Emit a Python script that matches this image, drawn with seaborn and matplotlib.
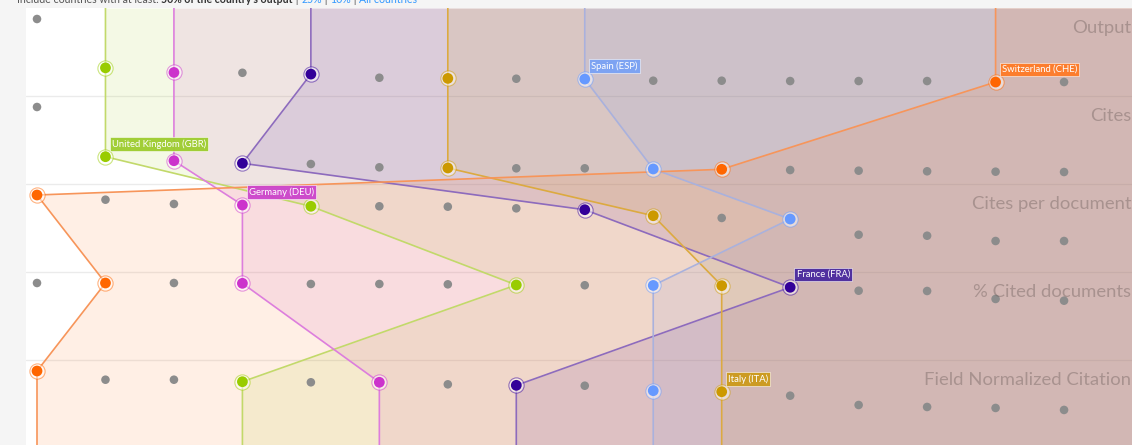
import matplotlib
matplotlib.use("Agg")
import matplotlib.pyplot as plt
import matplotlib.transforms as mtransforms
import seaborn as sns
import pandas as pd

# metrics (rows) and ranks (columns)
metrics = ["Output", "Cites", "Cites per document", "% Cited documents", "Field Normalized Citation"]
ranks = list(range(1, 17))

# relative score of the country at each rank (100 = best)
output_scores = [100, 26, 19, 18.5, 16.5, 11, 10, 9.5, 9, 6.5, 6.5, 6, 6, 6, 4.5, 4.5]
cites_scores = [100, 24.7, 18.6, 14.7, 13.6, 8.6, 7.6, 7.1, 7.1, 6.1, 5.6, 4.5, 3.5, 2.6, 2.0, 1.5]
cpd_scores = [100, 92.9, 86.4, 84.8, 82.9, 82.9, 82.3, 79.8, 77.7, 68.6, 65.2, 63.6, 39.8, 38.3, 30.3, 30.3]
cited_pct_scores = [100, 100, 100, 99.5, 98.5, 98.5, 98, 97, 96.6, 96.3, 96, 93.5, 88.3, 87.9, 75.8, 73.2]
fnc_scores = [100, 86.8, 86.8, 83.8, 82.9, 82.9, 79.8, 78.3, 77.7, 70.2, 68.6, 62.6, 48.5, 45.5, 44, 41]
all_scores = [output_scores, cites_scores, cpd_scores, cited_pct_scores, fnc_scores]

# highlighted countries: rank in each metric
countries = ["United Kingdom (GBR)", "Germany (DEU)", "France (FRA)", "Italy (ITA)",
             "Spain (ESP)", "Switzerland (CHE)"]
country_ranks = [
    [2, 2, 5, 8, 4],
    [3, 3, 4, 4, 6],
    [5, 4, 9, 12, 8],
    [7, 7, 10, 11, 11],
    [9, 10, 12, 10, 10],
    [15, 11, 1, 2, 1],
]
label_row = [1, 2, 3, 4, 0, 0]
colors = ["#99cc00", "#cc33cc", "#330099", "#cc9900", "#6699ff", "#ff6600"]
label_colors = ["#9dcc2e", "#cc44cc", "#4a2a9e", "#cc9a1a", "#79a2f5", "#ff7a26"]
line_colors = ["#c2d96a", "#dd7edd", "#8d6bbd", "#dcaa40", "#a9b1dd", "#f7955a"]


def band_y(row, score):
    return row + 0.125 + (1 - score / 100.0) * 0.75


sns.set_theme(style="white")
plt.rcParams["font.family"] = ["Lato", "DejaVu Sans"]

W, H = 1132, 445
fig = plt.figure(figsize=(W / 100, H / 100), dpi=100, facecolor="#f5f5f5")
ax = fig.add_axes([26 / W, 0, 1 - 26 / W, 437 / H])
col_w = 68.47
x_left = 1 - 11 / col_w
x_right = 1 + (W - 37) / col_w
y_bottom = 437 / 88
ax.set_xlim(x_left, x_right)
ax.set_ylim(y_bottom, 0)
ax.set_facecolor("white")
ax.set_xticks([])
ax.set_yticks([])
for s in ax.spines.values():
    s.set_visible(False)

# row separators
for i in range(1, len(metrics)):
    ax.axhline(i, color="#000000", alpha=0.08, lw=1, zorder=1)

# country paths and fills
for name, rk, c, lc in zip(countries, country_ranks, colors, line_colors):
    ys = [0] + [band_y(i, all_scores[i][r - 1]) for i, r in enumerate(rk)] + [y_bottom]
    xs = [rk[0]] + rk + [rk[-1]]
    ax.fill_betweenx(ys, xs, x_right + 1, color=c, alpha=0.1, lw=0, zorder=2)
    ax.plot(xs, ys, color=lc, lw=1.2, zorder=4)

# gray dots for all ranks
dots = pd.DataFrame([
    {"metric": m, "rank": r, "y": band_y(i, sc)}
    for i, (m, scores) in enumerate(zip(metrics, all_scores))
    for r, sc in zip(ranks, scores)
])
sns.scatterplot(data=dots, x="rank", y="y", color="#8c8c8c", s=38, edgecolor="none",
                ax=ax, zorder=3, legend=False)

# highlighted dots + labels
for k, (name, rk, c, lbc) in enumerate(zip(countries, country_ranks, colors, label_colors)):
    pts = pd.DataFrame({"rank": rk, "y": [band_y(i, all_scores[i][r - 1]) for i, r in enumerate(rk)]})
    sns.scatterplot(data=pts, x="rank", y="y", s=120, facecolor="white", edgecolor=c,
                    linewidth=0.8, alpha=0.5, ax=ax, zorder=5, legend=False)
    sns.scatterplot(data=pts, x="rank", y="y", s=60, color=c, edgecolor="none",
                    ax=ax, zorder=6, legend=False)
    row = label_row[k]
    ax.annotate(name, xy=(pts["rank"][row], pts["y"][row]), xytext=(4.6, 9.2),
                textcoords="offset points", ha="left", va="center", fontsize=6.8,
                color="white", zorder=7,
                bbox=dict(boxstyle="square,pad=0.22", fc=lbc, ec="white", lw=0.4, alpha=0.95))

# row titles at the right
trans = mtransforms.blended_transform_factory(ax.transAxes, ax.transData)
for i, m in enumerate(metrics):
    ax.text(0.9995, i + 0.23, m, transform=trans, ha="right", va="center",
            fontsize=13.3, color="#6f5f5c", alpha=0.42, zorder=8)

# filter line at the very top (mostly cut off, as in the page capture)
t1 = fig.text(17 / W, 1 - 3 / H, "Include countries with at least: ", fontsize=7.6,
              color="#555555", va="baseline")
t2 = fig.text(0, 0, "50% of the country's output", fontsize=7.6, color="#333333",
              fontweight="bold", va="baseline")
fig.canvas.draw()
r = fig.canvas.get_renderer()
x = t1.get_window_extent(r).x1
t2.set_position((x / W, 1 - 3 / H))
x = t2.get_window_extent(r).x1
for txt, col in [(" | ", "#555555"), ("25%", "#3399ff"), (" | ", "#555555"), ("10%", "#3399ff"),
                 (" | ", "#555555"), ("All countries", "#3399ff")]:
    t = fig.text(x / W, 1 - 3 / H, txt, fontsize=7.6, color=col, va="baseline")
    x = t.get_window_extent(r).x1

fig.savefig("out.png", dpi=100, facecolor=fig.get_facecolor())
